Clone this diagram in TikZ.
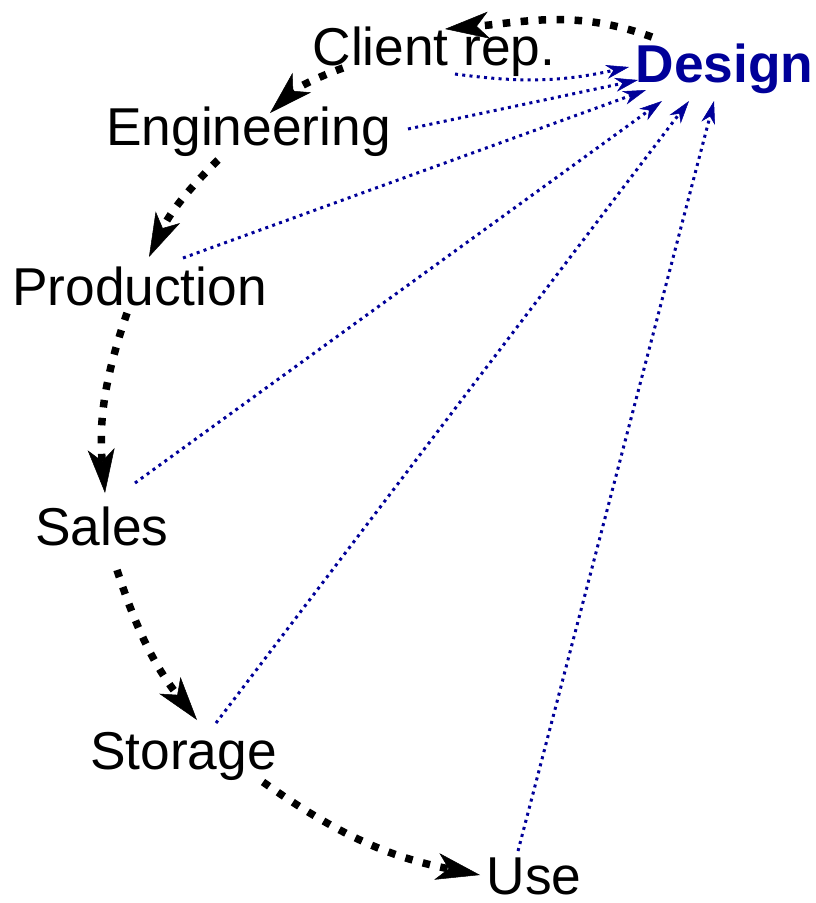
\documentclass[tikz,border=0pt]{standalone}
\usepackage{fontspec}
\setmainfont{Liberation Sans}
\usetikzlibrary{arrows.meta}
\definecolor{dblue}{RGB}{0,0,153}
\begin{document}
\begin{tikzpicture}[x=1pt,y=1pt,
  lbl/.style={inner sep=0pt, anchor=base, font=\fontsize{53.3}{64}\selectfont},
  flow/.style={line width=7.5pt, dash pattern=on 7.5pt off 10.5pt,
    -{Stealth[length=44pt,width=27pt,inset=12pt,line width=0.5pt]}},
  fb/.style={dblue, line width=3pt, dash pattern=on 3pt off 4.3pt,
    -{Stealth[length=23pt,width=14pt,inset=7pt,line width=0.5pt]}}]
\useasboundingbox (0,0) rectangle (815,-903);
\node[lbl] (client) at (434,-65) {Client rep.};
\node[lbl, text=dblue, font=\fontsize{53.3}{64}\selectfont\bfseries] (design) at (724.5,-82) {Design};
\node[lbl] (eng) at (248.5,-145) {Engineering};
\node[lbl] (prod) at (139.5,-305) {Production};
\node[lbl] (sales) at (102,-545) {Sales};
\node[lbl] (stor) at (183.5,-769) {Storage};
\node[lbl] (use) at (534,-894) {Use};
% black flow chain
\draw[flow] ([shift={(-72.5,45)}]design.base) to[out=160,in=5] ([shift={(11,36)}]client.base);
\draw[flow] ([shift={(-91,-3)}]client.base) to[bend right=12] ([shift={(21.5,32)}]eng.base);
\draw[flow] ([shift={(-30.5,-15)}]eng.base) to[bend right=10] ([shift={(9.5,48)}]prod.base);
\draw[flow] ([shift={(-12.5,-8)}]prod.base) to[bend right=12] ([shift={(3,52)}]sales.base);
\draw[flow] ([shift={(15,-25)}]sales.base) to[bend right=10] ([shift={(13.5,49)}]stor.base);
\draw[flow] ([shift={(79.5,-13)}]stor.base) to[bend right=12] ([shift={(-54,19)}]use.base);
% blue feedback
\draw[fb] ([shift={(21,-9)}]client.base) to[bend right=10] ([shift={(-95.5,15)}]design.base);
\draw[fb] ([shift={(159.5,16)}]eng.base) -- ([shift={(-86.5,2)}]design.base);
\draw[fb] ([shift={(43.5,47)}]prod.base) -- ([shift={(-78.5,-8)}]design.base);
\draw[fb] ([shift={(33,62)}]sales.base) -- ([shift={(-62.5,-19)}]design.base);
\draw[fb] ([shift={(32.5,46)}]stor.base) -- ([shift={(-35.5,-19)}]design.base);
\draw[fb] ([shift={(-16,43)}]use.base) -- ([shift={(-10.5,-19)}]design.base);
\end{tikzpicture}
\end{document}
